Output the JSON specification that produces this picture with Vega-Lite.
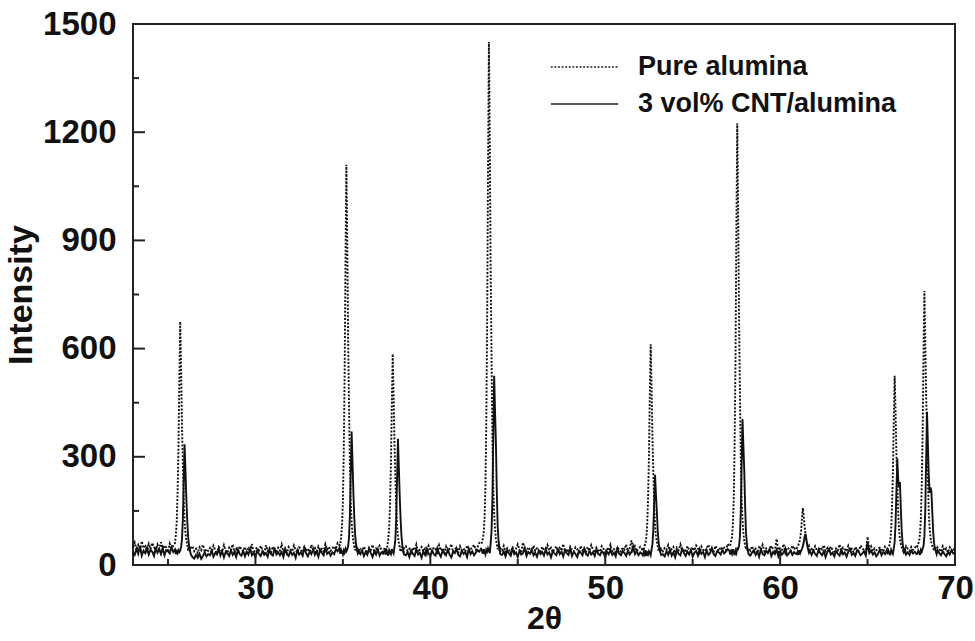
{
"$schema": "https://vega.github.io/schema/vega-lite/v6.json",
"width": 822, "height": 541,
"autosize": {"type": "none"},
"padding": {"left": 133, "top": 24, "right": 20, "bottom": 76},
"background": "white",
"config": {
  "view": {"stroke": "#222", "strokeWidth": 2},
  "font": "Liberation Sans",
  "axis": {"domain": false, "grid": false, "ticks": true, "tickOpacity": 0, "labelFont": "Liberation Sans", "labelFontSize": 33, "labelFontWeight": "bold", "labelColor": "#111", "titleFont": "Liberation Sans", "titleFontSize": 33, "titleFontWeight": "bold", "titleColor": "#111", "labelFlush": false, "labelOverlap": false}
},
"layer": [
 {
  "data": {"values": [
{"x":23.0,"p":48,"c":35},{"x":23.1,"p":62,"c":28},{"x":23.2,"p":41,"c":45},{"x":23.3,"p":55,"c":31},{"x":23.4,"p":38,"c":52},{"x":23.5,"p":66,"c":26},{"x":23.6,"p":47,"c":40},{"x":23.7,"p":52,"c":33},{"x":23.8,"p":35,"c":48},{"x":23.9,"p":58,"c":29},
{"x":24.0,"p":44,"c":42},{"x":24.1,"p":61,"c":37},{"x":24.2,"p":50,"c":25},{"x":24.3,"p":39,"c":50},{"x":24.4,"p":57,"c":34},{"x":24.5,"p":45,"c":44},{"x":24.6,"p":63,"c":30},{"x":24.7,"p":42,"c":47},{"x":24.8,"p":54,"c":27},{"x":24.9,"p":49,"c":41},
{"x":25.0,"p":36,"c":38},{"x":25.1,"p":59,"c":32},{"x":25.2,"p":46,"c":49},{"x":25.3,"p":53,"c":36},{"x":25.4,"p":60,"c":43},
{"x":25.45,"p":83,"c":30},{"x":25.5,"p":120,"c":38},{"x":25.55,"p":201,"c":33},{"x":25.6,"p":326,"c":41},{"x":25.65,"p":514,"c":36},{"x":25.7,"p":675,"c":40},{"x":25.75,"p":545,"c":50},{"x":25.8,"p":389,"c":71},{"x":25.85,"p":283,"c":125},{"x":25.9,"p":183,"c":230},{"x":25.95,"p":120,"c":335},{"x":26.0,"p":89,"c":260},{"x":26.05,"p":70,"c":185},{"x":26.1,"p":57,"c":125},{"x":26.15,"p":40,"c":80},{"x":26.2,"p":52,"c":56},{"x":26.25,"p":38,"c":44},{"x":26.3,"p":47,"c":30},
{"x":26.4,"p":52,"c":22},{"x":26.5,"p":38,"c":18},{"x":26.6,"p":45,"c":28},{"x":26.7,"p":33,"c":20},{"x":26.8,"p":49,"c":31},{"x":26.9,"p":41,"c":17},{"x":27.0,"p":56,"c":25},{"x":27.1,"p":36,"c":35},{"x":27.2,"p":44,"c":24},{"x":27.3,"p":39,"c":30},
{"x":27.4,"p":47,"c":27},{"x":27.5,"p":35,"c":40},{"x":27.6,"p":53,"c":23},{"x":27.7,"p":42,"c":33},{"x":27.8,"p":30,"c":29},{"x":27.9,"p":50,"c":45},{"x":28.0,"p":44,"c":26},{"x":28.1,"p":37,"c":38},{"x":28.2,"p":55,"c":21},{"x":28.3,"p":40,"c":36},
{"x":28.4,"p":34,"c":32},{"x":28.5,"p":48,"c":25},{"x":28.6,"p":41,"c":41},{"x":28.7,"p":57,"c":28},{"x":28.8,"p":36,"c":36},{"x":28.9,"p":45,"c":22},{"x":29.0,"p":31,"c":43},{"x":29.1,"p":52,"c":30},{"x":29.2,"p":43,"c":26},{"x":29.3,"p":38,"c":39},
{"x":29.4,"p":50,"c":24},{"x":29.5,"p":35,"c":37},{"x":29.6,"p":46,"c":29},{"x":29.7,"p":40,"c":46},{"x":29.8,"p":58,"c":27},{"x":29.9,"p":33,"c":34},{"x":30.0,"p":44,"c":21},{"x":30.1,"p":49,"c":40},{"x":30.2,"p":37,"c":31},{"x":30.3,"p":53,"c":25},
{"x":30.4,"p":42,"c":38},{"x":30.5,"p":31,"c":28},{"x":30.6,"p":55,"c":33},{"x":30.7,"p":39,"c":23},{"x":30.8,"p":47,"c":42},{"x":30.9,"p":36,"c":30},{"x":31.0,"p":51,"c":26},{"x":31.1,"p":44,"c":47},{"x":31.2,"p":34,"c":29},{"x":31.3,"p":48,"c":35},
{"x":31.4,"p":40,"c":27},{"x":31.5,"p":57,"c":36},{"x":31.6,"p":37,"c":22},{"x":31.7,"p":45,"c":44},{"x":31.8,"p":32,"c":31},{"x":31.9,"p":50,"c":25},{"x":32.0,"p":43,"c":39},{"x":32.1,"p":38,"c":28},{"x":32.2,"p":54,"c":34},{"x":32.3,"p":41,"c":20},
{"x":32.4,"p":35,"c":41},{"x":32.5,"p":49,"c":29},{"x":32.6,"p":44,"c":35},{"x":32.7,"p":30,"c":26},{"x":32.8,"p":52,"c":48},{"x":32.9,"p":39,"c":32},{"x":33.0,"p":46,"c":24},{"x":33.1,"p":36,"c":37},{"x":33.2,"p":56,"c":30},{"x":33.3,"p":42,"c":45},
{"x":33.4,"p":47,"c":28},{"x":33.5,"p":33,"c":38},{"x":33.6,"p":51,"c":23},{"x":33.7,"p":40,"c":42},{"x":33.8,"p":45,"c":33},{"x":33.9,"p":37,"c":27},{"x":34.0,"p":58,"c":49},{"x":34.1,"p":43,"c":31},{"x":34.2,"p":50,"c":36},{"x":34.3,"p":39,"c":26},
{"x":34.4,"p":46,"c":35},{"x":34.5,"p":52,"c":30},{"x":34.6,"p":44,"c":44},{"x":34.7,"p":61,"c":38},{"x":34.8,"p":55,"c":47},
{"x":34.85,"p":56,"c":31},{"x":34.9,"p":77,"c":42},{"x":34.95,"p":109,"c":36},{"x":35.0,"p":173,"c":29},{"x":35.05,"p":311,"c":40},{"x":35.1,"p":524,"c":34},{"x":35.15,"p":844,"c":45},{"x":35.2,"p":1110,"c":38},{"x":35.25,"p":897,"c":43},{"x":35.3,"p":631,"c":52},{"x":35.35,"p":450,"c":75},{"x":35.4,"p":279,"c":135},{"x":35.45,"p":173,"c":253},{"x":35.5,"p":120,"c":370},{"x":35.55,"p":88,"c":286},{"x":35.6,"p":66,"c":203},{"x":35.65,"p":52,"c":135},{"x":35.7,"p":41,"c":85},{"x":35.75,"p":55,"c":58},{"x":35.8,"p":38,"c":46},{"x":35.85,"p":47,"c":33},{"x":35.9,"p":36,"c":39},
{"x":36.0,"p":44,"c":30},{"x":36.1,"p":37,"c":41},{"x":36.2,"p":51,"c":25},{"x":36.3,"p":40,"c":36},{"x":36.4,"p":33,"c":28},{"x":36.5,"p":48,"c":45},{"x":36.6,"p":42,"c":33},{"x":36.7,"p":56,"c":22},{"x":36.8,"p":35,"c":38},{"x":36.9,"p":46,"c":29},{"x":37.0,"p":39,"c":43},{"x":37.1,"p":53,"c":26},{"x":37.2,"p":43,"c":35},{"x":37.3,"p":36,"c":31},{"x":37.4,"p":49,"c":40},
{"x":37.45,"p":44,"c":28},{"x":37.5,"p":38,"c":39},{"x":37.55,"p":56,"c":33},{"x":37.6,"p":73,"c":26},{"x":37.65,"p":105,"c":41},{"x":37.7,"p":176,"c":35},{"x":37.75,"p":285,"c":30},{"x":37.8,"p":449,"c":44},{"x":37.85,"p":585,"c":37},{"x":37.9,"p":476,"c":32},{"x":37.95,"p":340,"c":49},{"x":38.0,"p":247,"c":71},{"x":38.05,"p":160,"c":128},{"x":38.1,"p":105,"c":239},{"x":38.15,"p":78,"c":350},{"x":38.2,"p":62,"c":271},{"x":38.25,"p":48,"c":192},{"x":38.3,"p":37,"c":128},{"x":38.35,"p":51,"c":81},{"x":38.4,"p":42,"c":55},{"x":38.45,"p":34,"c":40},{"x":38.5,"p":47,"c":29},
{"x":38.6,"p":52,"c":27},{"x":38.7,"p":39,"c":36},{"x":38.8,"p":45,"c":22},{"x":38.9,"p":34,"c":40},{"x":39.0,"p":48,"c":31},{"x":39.1,"p":41,"c":25},{"x":39.2,"p":57,"c":44},{"x":39.3,"p":36,"c":29},{"x":39.4,"p":43,"c":34},{"x":39.5,"p":50,"c":20},
{"x":39.6,"p":38,"c":38},{"x":39.7,"p":46,"c":28},{"x":39.8,"p":31,"c":45},{"x":39.9,"p":53,"c":33},{"x":40.0,"p":42,"c":24},{"x":40.1,"p":37,"c":41},{"x":40.2,"p":49,"c":30},{"x":40.3,"p":44,"c":26},{"x":40.4,"p":35,"c":47},{"x":40.5,"p":55,"c":32},
{"x":40.6,"p":40,"c":23},{"x":40.7,"p":47,"c":39},{"x":40.8,"p":33,"c":35},{"x":40.9,"p":51,"c":27},{"x":41.0,"p":38,"c":43},{"x":41.1,"p":45,"c":29},{"x":41.2,"p":58,"c":21},{"x":41.3,"p":36,"c":37},{"x":41.4,"p":43,"c":33},{"x":41.5,"p":49,"c":46},
{"x":41.6,"p":34,"c":28},{"x":41.7,"p":52,"c":24},{"x":41.8,"p":41,"c":40},{"x":41.9,"p":46,"c":31},{"x":42.0,"p":37,"c":36},{"x":42.1,"p":54,"c":22},{"x":42.2,"p":39,"c":45},{"x":42.3,"p":44,"c":30},{"x":42.4,"p":48,"c":38},{"x":42.5,"p":56,"c":27},
{"x":42.6,"p":42,"c":34},{"x":42.7,"p":50,"c":41},{"x":42.8,"p":61,"c":37},{"x":42.9,"p":58,"c":45},
{"x":42.95,"p":62,"c":40},{"x":43.0,"p":73,"c":31},{"x":43.05,"p":87,"c":44},{"x":43.1,"p":129,"c":36},{"x":43.15,"p":214,"c":29},{"x":43.2,"p":396,"c":42},{"x":43.25,"p":677,"c":37},{"x":43.3,"p":1099,"c":46},{"x":43.35,"p":1450,"c":39},{"x":43.4,"p":1169,"c":33},{"x":43.45,"p":818,"c":60},{"x":43.5,"p":579,"c":94},{"x":43.55,"p":354,"c":182},{"x":43.6,"p":214,"c":354},{"x":43.65,"p":143,"c":525},{"x":43.7,"p":101,"c":427},{"x":43.75,"p":73,"c":339},{"x":43.8,"p":58,"c":207},{"x":43.85,"p":44,"c":109},{"x":43.9,"p":51,"c":69},{"x":43.95,"p":39,"c":48},{"x":44.0,"p":47,"c":30},
{"x":44.1,"p":40,"c":28},{"x":44.2,"p":53,"c":37},{"x":44.3,"p":36,"c":24},{"x":44.4,"p":47,"c":41},{"x":44.5,"p":42,"c":32},{"x":44.6,"p":33,"c":26},{"x":44.7,"p":51,"c":45},{"x":44.8,"p":38,"c":30},{"x":44.9,"p":45,"c":35},{"x":45.0,"p":57,"c":22},
{"x":45.1,"p":41,"c":39},{"x":45.2,"p":35,"c":29},{"x":45.3,"p":62,"c":33},{"x":45.4,"p":44,"c":47},{"x":45.5,"p":37,"c":25},{"x":45.6,"p":49,"c":36},{"x":45.7,"p":43,"c":31},{"x":45.8,"p":32,"c":43},{"x":45.9,"p":54,"c":27},{"x":46.0,"p":39,"c":34},
{"x":46.1,"p":46,"c":23},{"x":46.2,"p":40,"c":40},{"x":46.3,"p":34,"c":30},{"x":46.4,"p":50,"c":36},{"x":46.5,"p":43,"c":26},{"x":46.6,"p":37,"c":44},{"x":46.7,"p":55,"c":29},{"x":46.8,"p":41,"c":35},{"x":46.9,"p":48,"c":21},{"x":47.0,"p":36,"c":38},
{"x":47.1,"p":44,"c":32},{"x":47.2,"p":52,"c":27},{"x":47.3,"p":33,"c":43},{"x":47.4,"p":47,"c":30},{"x":47.5,"p":40,"c":37},{"x":47.6,"p":58,"c":24},{"x":47.7,"p":38,"c":41},{"x":47.8,"p":45,"c":33},{"x":47.9,"p":35,"c":28},{"x":48.0,"p":51,"c":46},
{"x":48.1,"p":42,"c":25},{"x":48.2,"p":37,"c":36},{"x":48.3,"p":49,"c":31},{"x":48.4,"p":44,"c":22},{"x":48.5,"p":31,"c":39},{"x":48.6,"p":53,"c":34},{"x":48.7,"p":40,"c":27},{"x":48.8,"p":46,"c":45},{"x":48.9,"p":36,"c":30},{"x":49.0,"p":50,"c":26},
{"x":49.1,"p":39,"c":40},{"x":49.2,"p":55,"c":29},{"x":49.3,"p":43,"c":35},{"x":49.4,"p":34,"c":25},{"x":49.5,"p":48,"c":44},{"x":49.6,"p":41,"c":31},{"x":49.7,"p":37,"c":27},{"x":49.8,"p":52,"c":38},{"x":49.9,"p":45,"c":33},{"x":50.0,"p":33,"c":21},
{"x":50.1,"p":47,"c":37},{"x":50.2,"p":40,"c":30},{"x":50.3,"p":56,"c":42},{"x":50.4,"p":38,"c":28},{"x":50.5,"p":44,"c":34},{"x":50.6,"p":35,"c":24},{"x":50.7,"p":50,"c":46},{"x":50.8,"p":42,"c":31},{"x":50.9,"p":37,"c":27},{"x":51.0,"p":49,"c":39},
{"x":51.1,"p":43,"c":33},{"x":51.2,"p":57,"c":25},{"x":51.3,"p":36,"c":41},{"x":51.4,"p":46,"c":29},{"x":51.5,"p":68,"c":36},{"x":51.6,"p":41,"c":52},{"x":51.7,"p":52,"c":30},{"x":51.8,"p":38,"c":38},{"x":51.9,"p":45,"c":27},{"x":52.0,"p":50,"c":35},{"x":52.1,"p":44,"c":31},
{"x":52.15,"p":49,"c":27},{"x":52.2,"p":40,"c":36},{"x":52.25,"p":53,"c":30},{"x":52.3,"p":59,"c":41},{"x":52.35,"p":76,"c":25},{"x":52.4,"p":110,"c":34},{"x":52.45,"p":185,"c":29},{"x":52.5,"p":299,"c":38},{"x":52.55,"p":470,"c":33},{"x":52.6,"p":612,"c":27},{"x":52.65,"p":498,"c":43},{"x":52.7,"p":356,"c":58},{"x":52.75,"p":259,"c":97},{"x":52.8,"p":167,"c":174},{"x":52.85,"p":110,"c":250},{"x":52.9,"p":82,"c":196},{"x":52.95,"p":65,"c":152},{"x":53.0,"p":53,"c":97},{"x":53.05,"p":40,"c":65},{"x":53.1,"p":48,"c":47},{"x":53.15,"p":36,"c":35},{"x":53.2,"p":45,"c":28},
{"x":53.3,"p":38,"c":30},{"x":53.4,"p":47,"c":24},{"x":53.5,"p":42,"c":38},{"x":53.6,"p":55,"c":28},{"x":53.7,"p":36,"c":43},{"x":53.8,"p":44,"c":26},{"x":53.9,"p":50,"c":35},{"x":54.0,"p":33,"c":21},{"x":54.1,"p":48,"c":40},{"x":54.2,"p":41,"c":31},
{"x":54.3,"p":57,"c":27},{"x":54.4,"p":39,"c":45},{"x":54.5,"p":45,"c":33},{"x":54.6,"p":35,"c":25},{"x":54.7,"p":52,"c":37},{"x":54.8,"p":43,"c":29},{"x":54.9,"p":37,"c":42},{"x":55.0,"p":49,"c":23},{"x":55.1,"p":40,"c":34},{"x":55.2,"p":54,"c":39},
{"x":55.3,"p":46,"c":26},{"x":55.4,"p":34,"c":44},{"x":55.5,"p":51,"c":31},{"x":55.6,"p":42,"c":36},{"x":55.7,"p":38,"c":22},{"x":55.8,"p":47,"c":41},{"x":55.9,"p":56,"c":28},{"x":56.0,"p":40,"c":33},{"x":56.1,"p":44,"c":47},{"x":56.2,"p":36,"c":30},
{"x":56.3,"p":53,"c":25},{"x":56.4,"p":45,"c":38},{"x":56.5,"p":39,"c":35},{"x":56.6,"p":50,"c":29},{"x":56.7,"p":43,"c":42},{"x":56.8,"p":48,"c":32},{"x":56.9,"p":41,"c":37},{"x":57.0,"p":58,"c":44},{"x":57.1,"p":52,"c":40},
{"x":57.15,"p":55,"c":29},{"x":57.2,"p":66,"c":38},{"x":57.25,"p":77,"c":31},{"x":57.3,"p":113,"c":44},{"x":57.35,"p":184,"c":35},{"x":57.4,"p":338,"c":27},{"x":57.45,"p":574,"c":40},{"x":57.5,"p":929,"c":33},{"x":57.55,"p":1225,"c":46},{"x":57.6,"p":988,"c":44},{"x":57.65,"p":693,"c":52},{"x":57.7,"p":492,"c":78},{"x":57.75,"p":302,"c":145},{"x":57.8,"p":184,"c":275},{"x":57.85,"p":125,"c":405},{"x":57.9,"p":89,"c":331},{"x":57.95,"p":66,"c":264},{"x":58.0,"p":55,"c":163},{"x":58.05,"p":43,"c":89},{"x":58.1,"p":50,"c":59},{"x":58.15,"p":38,"c":41},{"x":58.2,"p":46,"c":30},
{"x":58.3,"p":40,"c":26},{"x":58.4,"p":52,"c":35},{"x":58.5,"p":37,"c":41},{"x":58.6,"p":45,"c":28},{"x":58.7,"p":33,"c":37},{"x":58.8,"p":49,"c":23},{"x":58.9,"p":43,"c":44},{"x":59.0,"p":56,"c":31},{"x":59.1,"p":38,"c":27},{"x":59.2,"p":46,"c":39},
{"x":59.3,"p":41,"c":33},{"x":59.4,"p":35,"c":45},{"x":59.5,"p":53,"c":25},{"x":59.6,"p":44,"c":36},{"x":59.7,"p":39,"c":30},{"x":59.8,"p":72,"c":42},{"x":59.9,"p":36,"c":24},{"x":60.0,"p":47,"c":38},{"x":60.1,"p":42,"c":29},{"x":60.2,"p":58,"c":34},
{"x":60.3,"p":34,"c":46},{"x":60.4,"p":48,"c":27},{"x":60.5,"p":45,"c":32},{"x":60.6,"p":39,"c":40},{"x":60.7,"p":54,"c":28},{"x":60.8,"p":43,"c":36},{"x":60.9,"p":50,"c":31},
{"x":60.95,"p":47,"c":30},{"x":61.0,"p":50,"c":37},{"x":61.05,"p":56,"c":28},{"x":61.1,"p":62,"c":41},{"x":61.15,"p":75,"c":33},{"x":61.2,"p":94,"c":39},{"x":61.25,"p":129,"c":45},{"x":61.3,"p":158,"c":52},{"x":61.35,"p":135,"c":63},{"x":61.4,"p":106,"c":78},{"x":61.45,"p":86,"c":86},{"x":61.5,"p":68,"c":72},{"x":61.55,"p":57,"c":55},{"x":61.6,"p":48,"c":44},{"x":61.65,"p":53,"c":34},{"x":61.7,"p":41,"c":39},
{"x":61.8,"p":45,"c":28},{"x":61.9,"p":38,"c":40},{"x":62.0,"p":52,"c":31},{"x":62.1,"p":41,"c":25},{"x":62.2,"p":36,"c":43},{"x":62.3,"p":49,"c":33},{"x":62.4,"p":43,"c":27},{"x":62.5,"p":55,"c":38},{"x":62.6,"p":39,"c":22},{"x":62.7,"p":47,"c":36},
{"x":62.8,"p":34,"c":45},{"x":62.9,"p":51,"c":29},{"x":63.0,"p":42,"c":34},{"x":63.1,"p":37,"c":24},{"x":63.2,"p":46,"c":39},{"x":63.3,"p":40,"c":31},{"x":63.4,"p":57,"c":26},{"x":63.5,"p":35,"c":42},{"x":63.6,"p":48,"c":30},{"x":63.7,"p":44,"c":35},
{"x":63.8,"p":38,"c":23},{"x":63.9,"p":53,"c":37},{"x":64.0,"p":41,"c":44},{"x":64.1,"p":45,"c":28},{"x":64.2,"p":36,"c":33},{"x":64.3,"p":50,"c":25},{"x":64.4,"p":43,"c":41},{"x":64.5,"p":39,"c":36},{"x":64.6,"p":54,"c":27},{"x":64.7,"p":47,"c":32},
{"x":64.8,"p":40,"c":38},{"x":64.9,"p":35,"c":26},{"x":65.0,"p":78,"c":62},{"x":65.1,"p":44,"c":33},{"x":65.2,"p":52,"c":40},{"x":65.3,"p":38,"c":29},{"x":65.4,"p":46,"c":35},{"x":65.5,"p":41,"c":24},{"x":65.6,"p":45,"c":31},{"x":65.7,"p":48,"c":43},
{"x":65.8,"p":43,"c":27},{"x":65.9,"p":37,"c":36},{"x":66.0,"p":51,"c":30},{"x":66.1,"p":46,"c":41},
{"x":66.15,"p":46,"c":30},{"x":66.2,"p":50,"c":39},{"x":66.25,"p":55,"c":34},{"x":66.3,"p":69,"c":27},{"x":66.35,"p":98,"c":42},{"x":66.4,"p":161,"c":36},{"x":66.45,"p":258,"c":31},{"x":66.5,"p":404,"c":46},{"x":66.55,"p":525,"c":64},{"x":66.6,"p":428,"c":112},{"x":66.65,"p":307,"c":203},{"x":66.7,"p":224,"c":295},{"x":66.75,"p":147,"c":240},{"x":66.8,"p":98,"c":215},{"x":66.85,"p":74,"c":230},{"x":66.9,"p":59,"c":160},{"x":66.95,"p":50,"c":98},{"x":67.0,"p":43,"c":62},{"x":67.05,"p":37,"c":45},{"x":67.1,"p":48,"c":36},{"x":67.15,"p":41,"c":41},{"x":67.2,"p":52,"c":29},
{"x":67.3,"p":45,"c":35},{"x":67.4,"p":39,"c":28},{"x":67.5,"p":50,"c":40},{"x":67.6,"p":42,"c":32},{"x":67.7,"p":47,"c":37},{"x":67.8,"p":55,"c":30},
{"x":67.85,"p":52,"c":31},{"x":67.9,"p":59,"c":40},{"x":67.95,"p":66,"c":35},{"x":68.0,"p":88,"c":28},{"x":68.05,"p":131,"c":42},{"x":68.1,"p":224,"c":37},{"x":68.15,"p":367,"c":45},{"x":68.2,"p":581,"c":53},{"x":68.25,"p":760,"c":80},{"x":68.3,"p":617,"c":151},{"x":68.35,"p":465,"c":288},{"x":68.4,"p":375,"c":425},{"x":68.45,"p":245,"c":333},{"x":68.5,"p":145,"c":248},{"x":68.55,"p":102,"c":200},{"x":68.6,"p":77,"c":215},{"x":68.65,"p":62,"c":205},{"x":68.7,"p":53,"c":150},{"x":68.75,"p":47,"c":95},{"x":68.8,"p":40,"c":62},{"x":68.85,"p":51,"c":45},{"x":68.9,"p":44,"c":38},{"x":68.95,"p":38,"c":30},{"x":69.0,"p":49,"c":41},
{"x":69.1,"p":43,"c":33},{"x":69.2,"p":37,"c":27},{"x":69.3,"p":52,"c":38},{"x":69.4,"p":40,"c":30},{"x":69.5,"p":46,"c":24},{"x":69.6,"p":35,"c":36},{"x":69.7,"p":49,"c":29},{"x":69.8,"p":42,"c":41},{"x":69.9,"p":38,"c":32},{"x":70.0,"p":50,"c":35}
  ]},
  "transform": [{"fold": ["p", "c"], "as": ["series", "value"]}],
  "mark": {"type": "line", "strokeWidth": 1.9, "color": "#111"},
  "encoding": {
    "x": {"field": "x", "type": "quantitative",
      "scale": {"domain": [23, 70], "nice": false, "zero": false},
      "axis": {"orient": "bottom", "title": "2θ", "values": [30, 40, 50, 60, 70], "format": "d", "tickSize": -12,
        "labelPadding": 19, "titlePadding": -2, "titleFontSize": 32}},
    "y": {"field": "value", "type": "quantitative",
      "scale": {"domain": [0, 1500], "nice": false},
      "axis": {"orient": "left", "title": "Intensity", "values": [0, 300, 600, 900, 1200, 1500], "format": "d", "tickSize": -12,
        "labelPadding": 29, "titlePadding": 4, "titleFontSize": 34}},
    "strokeDash": {"field": "series", "type": "nominal",
      "scale": {"domain": ["p", "c"], "range": [[2, 1.6], [1, 0]]},
      "legend": {"orient": "none", "legendX": 437, "legendY": 28.5, "title": null,
        "labelExpr": "datum.value === 'p' ? 'Pure alumina' : '3 vol% CNT/alumina'",
        "labelFont": "Liberation Sans", "labelFontSize": 27, "labelFontWeight": "bold", "labelColor": "#111", "labelLimit": 500,
        "symbolType": "M-2.5,0H2.5", "symbolSize": 729, "symbolStrokeWidth": 1.5, "symbolStrokeColor": "#222",
        "rowPadding": 9, "labelOffset": 39, "padding": 0}}
  }
 },
 {
  "data": {"values": [{"v": 30}, {"v": 40}, {"v": 50}, {"v": 60}]},
  "mark": {"type": "tick", "orient": "vertical", "size": 12, "thickness": 2, "color": "#222", "opacity": 1, "yOffset": -6},
  "encoding": {"x": {"field": "v", "type": "quantitative"}, "y": {"datum": 0}}
 },
 {
  "data": {"values": [{"v": 25}, {"v": 35}, {"v": 45}, {"v": 55}, {"v": 65}]},
  "mark": {"type": "tick", "orient": "vertical", "size": 6, "thickness": 2, "color": "#222", "opacity": 1, "yOffset": -3},
  "encoding": {"x": {"field": "v", "type": "quantitative"}, "y": {"datum": 0}}
 },
 {
  "data": {"values": [{"v": 300}, {"v": 600}, {"v": 900}, {"v": 1200}]},
  "mark": {"type": "tick", "orient": "horizontal", "size": 12, "thickness": 2, "color": "#222", "opacity": 1, "xOffset": 6},
  "encoding": {"y": {"field": "v", "type": "quantitative"}, "x": {"datum": 23}}
 },
 {
  "data": {"values": [{"v": 150}, {"v": 450}, {"v": 750}, {"v": 1050}, {"v": 1350}]},
  "mark": {"type": "tick", "orient": "horizontal", "size": 6, "thickness": 2, "color": "#222", "opacity": 1, "xOffset": 3},
  "encoding": {"y": {"field": "v", "type": "quantitative"}, "x": {"datum": 23}}
 }
]
}
